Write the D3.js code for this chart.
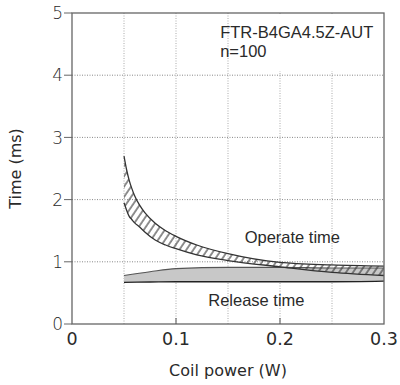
<!DOCTYPE html>
<html>
<head>
<meta charset="utf-8">
<script src="https://cdn.jsdelivr.net/npm/d3@7"></script>
<style>
  body { margin: 0; background: #fff; }
  text { fill: #2a2a2a; }
</style>
</head>
<body>
<div id="chart"></div>
<script>
// data
var opX     = [0.05, 0.0525, 0.055, 0.0575, 0.06, 0.065, 0.07, 0.08, 0.09, 0.1, 0.12, 0.15, 0.2, 0.25, 0.3];
var opUpper = [2.70, 2.48, 2.31, 2.18, 2.07, 1.91, 1.79, 1.62, 1.50, 1.41, 1.27, 1.13, 0.99, 0.95, 0.93];
var opLower = [1.95, 1.83, 1.73, 1.68, 1.63, 1.56, 1.48, 1.35, 1.27, 1.21, 1.11, 1.02, 0.92, 0.83, 0.78];

var relX     = [0.05, 0.075, 0.1, 0.15, 0.2, 0.25, 0.3];
var relUpper = [0.78, 0.84, 0.89, 0.91, 0.91, 0.90, 0.90];
var relLower = [0.67, 0.675, 0.68, 0.68, 0.68, 0.68, 0.69];

var xTicks = [0, 0.1, 0.2, 0.3];
var xGrid  = [0.05, 0.1, 0.15, 0.2, 0.25];
var yTicks = [0, 1, 2, 3, 4, 5];

var margin = {top: 13, left: 72, right: 16, bottom: 61};
var width = 400 - margin.left - margin.right,
    height = 385 - margin.top - margin.bottom;

var svg = d3.select('#chart')
    .append('svg')
        .attr('width', 400)
        .attr('height', 385)
    .append('g')
        .attr('transform', 'translate(' + margin.left + ',' + margin.top + ')');

var x = d3.scaleLinear().domain([0, 0.3]).range([0, width]);
var y = d3.scaleLinear().domain([0, 5]).range([height, 0]);

// hatch for the operate band
var defs = d3.select('svg').append('defs');
defs.append('pattern')
    .attr('id', 'hatch')
    .attr('patternUnits', 'userSpaceOnUse')
    .attr('width', 5.8).attr('height', 10)
    .attr('patternTransform', 'rotate(34)')
  .append('line')
    .attr('x1', 1).attr('y1', 0).attr('x2', 1).attr('y2', 10)
    .attr('stroke', '#333').attr('stroke-width', 1.1);

// grid
svg.append('g').selectAll('line.vg')
    .data(xGrid)
    .enter().append('line')
    .attr('x1', function(d) { return x(d); })
    .attr('x2', function(d) { return x(d); })
    .attr('y1', 0).attr('y2', height)
    .attr('stroke', '#aaa').attr('stroke-dasharray', '1,1.5');

svg.append('g').selectAll('line.hg')
    .data([1, 2, 3, 4])
    .enter().append('line')
    .attr('x1', 0).attr('x2', width)
    .attr('y1', function(d) { return y(d); })
    .attr('y2', function(d) { return y(d); })
    .attr('stroke', '#888').attr('stroke-dasharray', '1,1.5');

// inward ticks on the x axis
svg.append('g').selectAll('line.xt')
    .data([0.1, 0.2])
    .enter().append('line')
    .attr('x1', function(d) { return x(d); })
    .attr('x2', function(d) { return x(d); })
    .attr('y1', height).attr('y2', height - 6)
    .attr('stroke', '#555');

// release band
var rel = relX.map(function(d, i) { return {x: d, y0: relLower[i], y1: relUpper[i]}; });
var relArea = d3.area().curve(d3.curveMonotoneX)
    .x(function(d) { return x(d.x); })
    .y0(function(d) { return y(d.y0); })
    .y1(function(d) { return y(d.y1); });
svg.append('path').datum(rel)
    .attr('d', relArea)
    .attr('fill', '#c8c8c8');
svg.append('path').datum(rel)
    .attr('d', d3.line().curve(d3.curveMonotoneX)
        .x(function(d) { return x(d.x); })
        .y(function(d) { return y(d.y1); }))
    .attr('fill', 'none').attr('stroke', '#555').attr('stroke-width', 1.2);
svg.append('path').datum(rel)
    .attr('d', d3.line().curve(d3.curveMonotoneX)
        .x(function(d) { return x(d.x); })
        .y(function(d) { return y(d.y0); }))
    .attr('fill', 'none').attr('stroke', '#222').attr('stroke-width', 1.4);

// operate band
var op = opX.map(function(d, i) { return {x: d, y0: opLower[i], y1: opUpper[i]}; });
var opArea = d3.area().curve(d3.curveMonotoneX)
    .x(function(d) { return x(d.x); })
    .y0(function(d) { return y(d.y0); })
    .y1(function(d) { return y(d.y1); });
svg.append('path').datum(op)
    .attr('d', opArea)
    .attr('fill', 'url(#hatch)');
['y0', 'y1'].forEach(function(k) {
    svg.append('path').datum(op)
        .attr('d', d3.line().curve(d3.curveMonotoneX)
            .x(function(d) { return x(d.x); })
            .y(function(d) { return y(d[k]); }))
        .attr('fill', 'none').attr('stroke', '#333').attr('stroke-width', 1.3);
});

// frame
svg.append('rect')
    .attr('width', width).attr('height', height)
    .attr('fill', 'none').attr('stroke', '#666').attr('stroke-width', 1.3);

// y ticks and labels
svg.append('g').selectAll('line.yt')
    .data(yTicks)
    .enter().append('line')
    .attr('x1', -8).attr('x2', 0)
    .attr('y1', function(d) { return y(d); })
    .attr('y2', function(d) { return y(d); })
    .attr('stroke', '#666');
svg.append('g').selectAll('text')
    .data(yTicks)
    .enter().append('text')
    .attr('x', -9)
    .attr('y', function(d) { return y(d); })
    .attr('dy', '0.36em')
    .attr('text-anchor', 'end')
    .style('font', '17px "DejaVu Sans"')
    .style('font-weight', 300)
    .text(function(d) { return d; });

// x labels
svg.append('g').selectAll('text')
    .data(xTicks)
    .enter().append('text')
    .attr('x', function(d) { return x(d); })
    .attr('y', height + 21)
    .attr('text-anchor', 'middle')
    .style('font', '17.5px "DejaVu Sans"')
    .text(function(d) { return d; });

// axis titles
svg.append('text')
    .attr('x', width / 2).attr('y', height + 52)
    .attr('text-anchor', 'middle')
    .style('font', '16px "DejaVu Sans"')
    .text('Coil power (W)');
svg.append('text')
    .attr('transform', 'translate(' + (-51) + ',' + (height / 2) + ') rotate(-90)')
    .attr('text-anchor', 'middle')
    .style('font', '16px "DejaVu Sans"')
    .text('Time (ms)');

// annotations
svg.append('rect')
    .attr('x', x(0.156)).attr('y', 1)
    .attr('width', width - x(0.156) - 1).attr('height', 57)
    .attr('fill', '#fff');
svg.append('text')
    .attr('x', x(0.1425)).attr('y', 25)
    .style('font', '16.5px "Liberation Sans"')
    .text('FTR-B4GA4.5Z-AUT');
svg.append('text')
    .attr('x', x(0.1425)).attr('y', 44)
    .style('font', '16.5px "Liberation Sans"')
    .text('n=100');
svg.append('text')
    .attr('x', x(0.166)).attr('y', 230)
    .style('font', '16.5px "Liberation Sans"')
    .text('Operate time');
svg.append('text')
    .attr('x', x(0.131)).attr('y', 293)
    .style('font', '16.5px "Liberation Sans"')
    .text('Release time');
</script>
</body>
</html>
